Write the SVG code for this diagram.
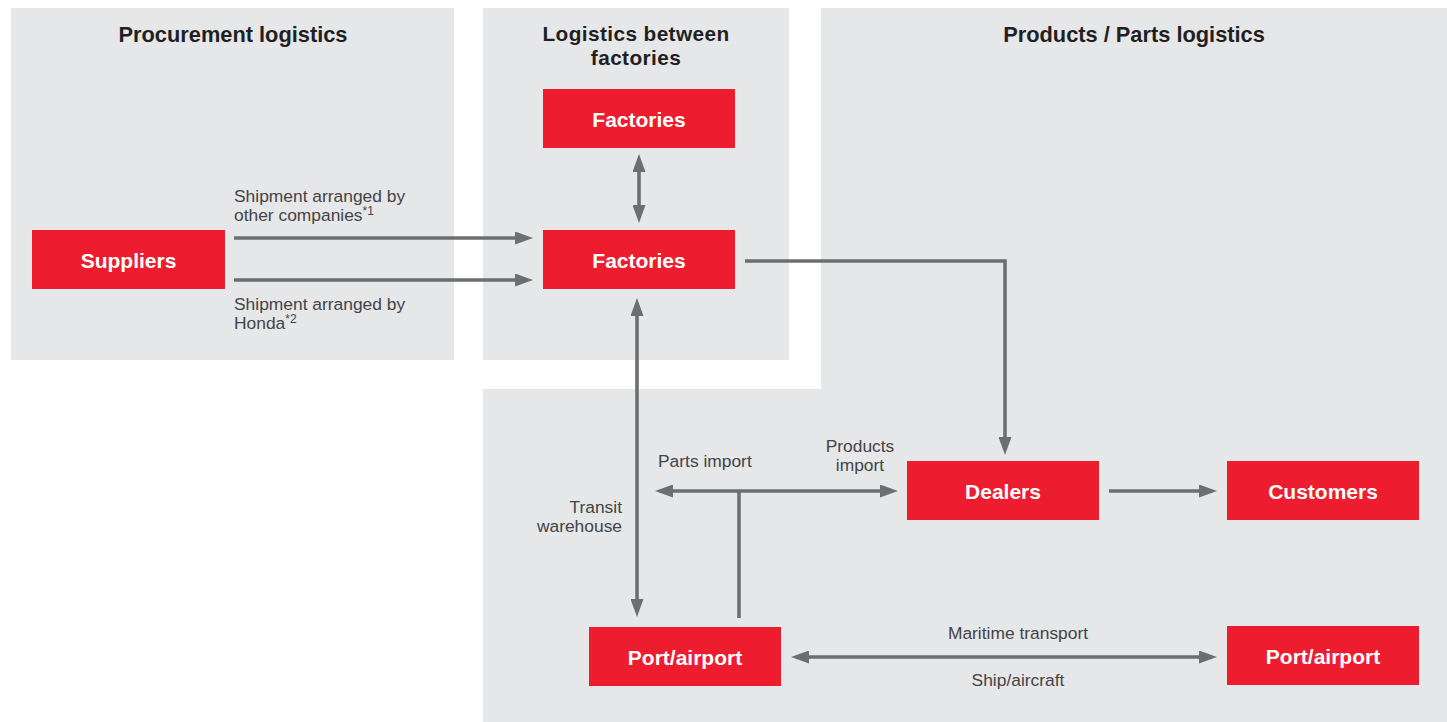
<svg xmlns="http://www.w3.org/2000/svg" width="1447" height="722" viewBox="0 0 1447 722">
<defs>
<marker id="ah" viewBox="0 0 18 13" refX="13" refY="6.5" markerWidth="18" markerHeight="13" markerUnits="userSpaceOnUse" orient="auto-start-reverse">
<path d="M0,0 L18,6.5 L0,13 z" fill="#6d6e71"/>
</marker>
<style>
.panel{fill:#e6e7e9}
.box{fill:#ed1c2e}
.bt{font-family:"Liberation Sans",Arial,sans-serif;font-size:21px;font-weight:bold;fill:#fff;text-anchor:middle}
.title{font-family:"Liberation Sans",Arial,sans-serif;font-size:21.8px;font-weight:bold;fill:#231f20;text-anchor:middle}
.t2{font-size:20.8px;letter-spacing:0.4px}
.lbl{font-family:"Liberation Sans",Arial,sans-serif;font-size:17.4px;fill:#444446}
.conn{stroke:#6d6e71;stroke-width:3.6;fill:none}
.ar{marker-end:url(#ah)}
.ar2{marker-start:url(#ah);marker-end:url(#ah)}
</style>
</defs>
<g id="panels">
<rect class="panel" x="11" y="8" width="443" height="352"/>
<rect class="panel" x="483" y="8" width="306" height="352"/>
<path class="panel" d="M821,8 H1447 V722 H483 V389 H821 Z"/>
<text class="title" x="233" y="42">Procurement logistics</text>
<text class="title t2" x="636" y="41">Logistics between</text>
<text class="title t2" x="636" y="65">factories</text>
<text class="title" x="1134" y="42">Products / Parts logistics</text>
</g>
<g id="connectors">
<line class="conn ar" x1="234" y1="238" x2="528" y2="238"/>
<line class="conn ar" x1="234" y1="280" x2="528" y2="280"/>
<line class="conn ar2" x1="639" y1="159" x2="639" y2="218"/>
<polyline class="conn ar" points="745,261 1005,261 1005,450"/>
<line class="conn ar2" x1="637" y1="303" x2="637" y2="612"/>
<line class="conn ar2" x1="660" y1="491" x2="893" y2="491"/>
<line class="conn" x1="739" y1="491" x2="739" y2="618"/>
<line class="conn ar" x1="1109" y1="491" x2="1212" y2="491"/>
<line class="conn ar2" x1="796" y1="657" x2="1212" y2="657"/>
<text class="lbl" x="234" y="202">Shipment arranged by</text>
<text class="lbl" x="234" y="221">other companies<tspan font-size="12" dy="-6">*1</tspan></text>
<text class="lbl" x="234" y="310">Shipment arranged by</text>
<text class="lbl" x="234" y="329">Honda<tspan font-size="12" dy="-6">*2</tspan></text>
<text class="lbl" x="658" y="467">Parts import</text>
<text class="lbl" x="860" y="452" text-anchor="middle">Products</text>
<text class="lbl" x="860" y="471" text-anchor="middle">import</text>
<text class="lbl" x="622" y="513" text-anchor="end">Transit</text>
<text class="lbl" x="622" y="532" text-anchor="end">warehouse</text>
<text class="lbl" x="1018" y="639" text-anchor="middle">Maritime transport</text>
<text class="lbl" x="1018" y="686" text-anchor="middle">Ship/aircraft</text>
</g>
<g id="suppliers"><rect class="box" x="32" y="230" width="193" height="59"/><text class="bt" x="128.5" y="268">Suppliers</text></g>
<g id="factories-top"><rect class="box" x="543" y="89" width="192" height="59"/><text class="bt" x="639" y="127">Factories</text></g>
<g id="factories"><rect class="box" x="543" y="230" width="192" height="59"/><text class="bt" x="639" y="268">Factories</text></g>
<g id="dealers"><rect class="box" x="907" y="461" width="192" height="59"/><text class="bt" x="1003" y="499">Dealers</text></g>
<g id="customers"><rect class="box" x="1227" y="461" width="192" height="59"/><text class="bt" x="1323" y="499">Customers</text></g>
<g id="port-left"><rect class="box" x="589" y="627" width="192" height="59"/><text class="bt" x="685" y="665">Port/airport</text></g>
<g id="port-right"><rect class="box" x="1227" y="626" width="192" height="59"/><text class="bt" x="1323" y="664">Port/airport</text></g>
</svg>
